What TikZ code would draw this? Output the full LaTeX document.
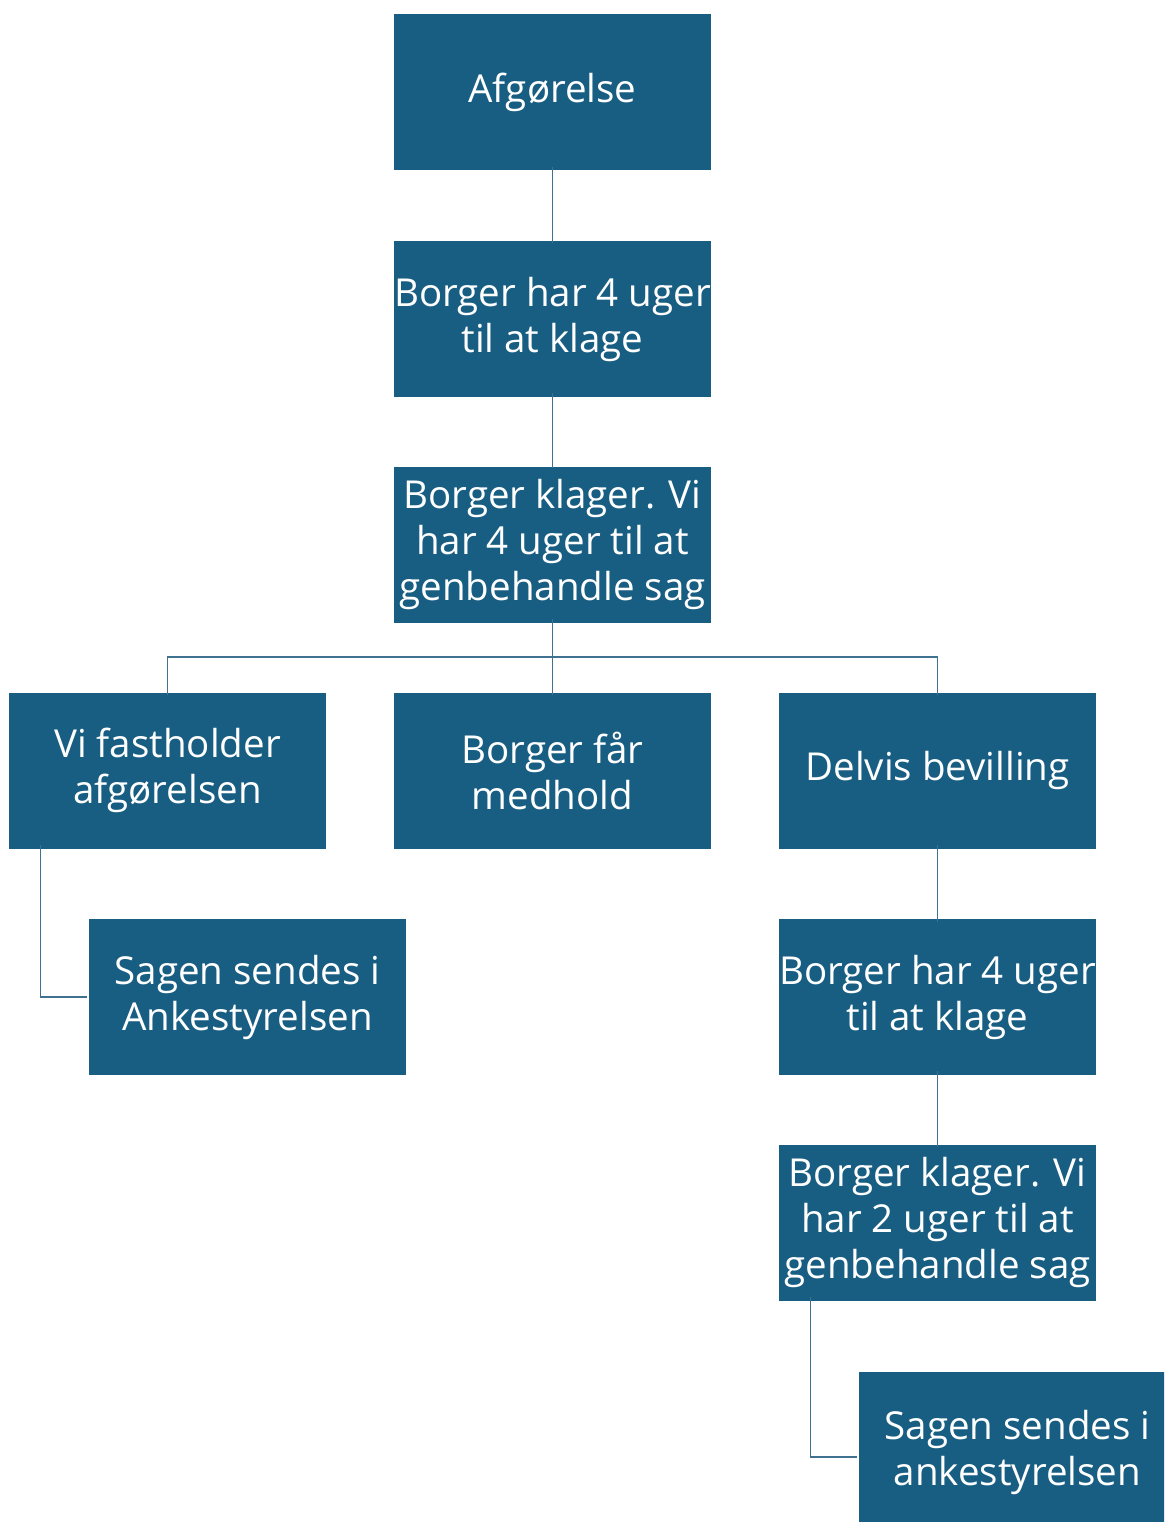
\documentclass[tikz,border=0pt]{standalone}
\usepackage{fontspec}
\setmainfont{Open Sans}
\definecolor{boxblue}{HTML}{185E82}
\definecolor{linkblue}{HTML}{3F7190}
\begin{document}
\begin{tikzpicture}[x=1pt,y=-1pt,
  box/.style={fill=boxblue,text=white,draw=none,minimum width=317pt,minimum height=156pt,
    inner sep=0pt,align=center,font=\fontsize{38.5}{46}\selectfont},
  link/.style={draw=linkblue,line width=1.8pt}]
\useasboundingbox (0,0) rectangle (1164,1522);
\begin{scope}
\clip (0,0) rectangle (1164,1522);
\node[box] (a) at (552.5,92.5) {Afgørelse};
\node[box] (b) at (552.5,319) {Borger har 4 uger\\til at klage};
\node[box] (c) at (552.5,544.5) {Borger klager. Vi\\har 4 uger til at\\genbehandle sag};
\node[box] (d) at (167.5,770.5) {Vi fastholder\\afgørelsen};
\node[box] (e) at (552.5,770.5) {Borger får\\medhold};
\node[box] (f) at (937.5,770.5) {Delvis bevilling};
\node[box] (g) at (247.5,997) {Sagen sendes i\\Ankestyrelsen};
\node[box] (h) at (937.5,997) {Borger har 4 uger\\til at klage};
\node[box] (i) at (937.5,1222.5) {Borger klager. Vi\\har 2 uger til at\\genbehandle sag};
\node[box,minimum height=160pt] (j) at (1017.5,1452) {Sagen sendes i\\ankestyrelsen};
\end{scope}
\coordinate (hb) at (552,657);
\draw[link] ([yshift=4pt]a.south) -- ([yshift=-2pt]b.north);
\draw[link] ([yshift=4pt]b.south) -- ([yshift=-2pt]c.north);
\draw[link] ([yshift=4pt]c.south) -- ([yshift=-3pt]e.north);
\draw[link] ([yshift=-3pt]d.north) -- (d.north |- hb) -- (f.north |- hb) -- ([yshift=-3pt]f.north);
\draw[link] ([xshift=-127pt,yshift=4pt]d.south) |- ([xshift=-2pt]g.west);
\draw[link] ([yshift=4pt]f.south) -- ([yshift=-3pt]h.north);
\draw[link] ([yshift=4pt]h.south) -- ([yshift=-3pt]i.north);
\draw[link] ([xshift=-127pt,yshift=4pt]i.south) |- ([xshift=-2pt,yshift=-5pt]j.west);
\end{tikzpicture}
\end{document}
